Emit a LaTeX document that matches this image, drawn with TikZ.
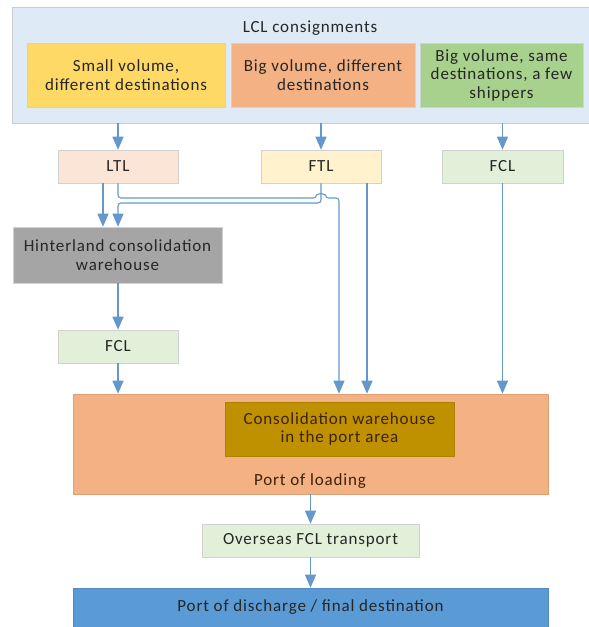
\documentclass[tikz,border=0pt]{standalone}
\usepackage{fontspec}
\setmainfont{Carlito}[LetterSpace=5]
\usetikzlibrary{arrows.meta}
\definecolor{contc}{RGB}{222,235,247}
\definecolor{yelc}{RGB}{255,217,102}
\definecolor{orac}{RGB}{244,177,131}
\definecolor{grec}{RGB}{169,209,142}
\definecolor{ltlc}{RGB}{251,229,214}
\definecolor{ftlc}{RGB}{255,242,204}
\definecolor{fclc}{RGB}{226,240,217}
\definecolor{hintc}{RGB}{165,165,165}
\definecolor{consc}{RGB}{191,144,0}
\definecolor{discc}{RGB}{91,155,213}
\definecolor{arrc}{RGB}{100,152,205}
\definecolor{txtc}{RGB}{38,38,38}
\definecolor{browntxt}{RGB}{60,35,10}
\begin{document}
\begin{tikzpicture}[x=1pt,y=-1pt,
  box/.style={draw=black!18, line width=0.6pt, inner sep=0pt, align=center, text=txtc,
    font=\fontsize{17}{18.5}\selectfont},
  txt/.style={inner sep=0pt, align=center, text=txtc, font=\fontsize{17}{18.5}\selectfont},
  conn/.style={draw=arrc, line width=1.1pt},
  arr/.style={conn, -{Triangle[length=13pt,width=11pt]}},
  hooked/.style={arr, rounded corners=3pt},
]
\useasboundingbox (0,0) rectangle (589,627);

% top container
\node[box, fill=contc, draw=black!20, minimum width=580pt, minimum height=116pt] (lcl) at (302,65) {};
\node[txt] (lcltxt) at (310,28) {LCL consignments};
\node[box, fill=yelc, minimum width=198pt, minimum height=64pt] (small) at (126,75) {Small volume,\\different destinations};
\node[box, fill=orac, minimum width=184pt, minimum height=64pt] (bigdiff) at (323,75) {Big volume, different\\destinations};
\node[box, fill=grec, minimum width=163pt, minimum height=64pt] (bigsame) at (501.5,75) {Big volume, same\\destinations, a few\\shippers};

% transport mode boxes
\node[box, fill=ltlc, minimum width=120pt, minimum height=33pt] (ltl) at (118,166.5) {LTL};
\node[box, fill=ftlc, minimum width=120pt, minimum height=33pt] (ftl) at (321,166.5) {FTL};
\node[box, fill=fclc, minimum width=121pt, minimum height=33pt] (fclr) at (502.5,166.5) {FCL};

\node[box, fill=hintc, minimum width=209pt, minimum height=56pt] (hint) at (117.5,255) {Hinterland consolidation\\warehouse};
\node[box, fill=fclc, minimum width=120pt, minimum height=33pt] (fcll) at (118,346.5) {FCL};

% port of loading
\node[box, fill=orac, draw=orac!90!black, minimum width=475pt, minimum height=100pt] (port) at (310.5,444) {};
\node[box, fill=consc, draw=consc!90!black, text=browntxt, minimum width=229pt, minimum height=54pt] (cons) at (339.5,429) {Consolidation warehouse\\in the port area};
\node[txt, text=browntxt] (portlbl) at (310,481) {Port of loading};

\node[box, fill=fclc, minimum width=217pt, minimum height=33pt] (overseas) at (310.5,540.5) {Overseas FCL transport};
\node[box, fill=discc, draw=discc!90!black, minimum width=475pt, minimum height=40pt] (disc) at (310.5,608) {};
\node[txt] (disclbl) at (310.5,607) {Port of discharge / final destination};

% helper coordinates
\coordinate (yA) at (0,198);
\coordinate (yB) at (0,203);
\coordinate (xC) at (339,0);

% connectors
\draw[arr] (lcl.south -| ltl.north) -- (ltl.north);
\draw[arr] (lcl.south -| ftl.north) -- (ftl.north);
\draw[arr] (lcl.south -| fclr.north) -- (fclr.north);

\draw[arr] ([xshift=-15pt]ltl.south) -- ([xshift=-15pt]ltl.south |- hint.north);
\draw[hooked] (ftl.south) -- (ftl.south |- yB) -- (ltl.south |- yB) -- (ltl.south |- hint.north);
\draw[hooked] (ltl.south) -- (ltl.south |- yA) -- ([xshift=-4.5pt]ftl.south |- yA)
  arc[start angle=180, end angle=360, radius=4.5] -- (xC |- yA) -- (xC |- port.north);
\draw[arr] ([xshift=46pt]ftl.south) -- ([xshift=46pt]ftl.south |- port.north);
\draw[arr] (fclr.south) -- (fclr.south |- port.north);

\draw[arr] (hint.south -| fcll.north) -- (fcll.north);
\draw[arr] (fcll.south) -- (fcll.south |- port.north);
\draw[arr] (port.south -| overseas.north) -- (overseas.north);
\draw[arr] (overseas.south) -- (overseas.south |- disc.north);
\end{tikzpicture}
\end{document}
